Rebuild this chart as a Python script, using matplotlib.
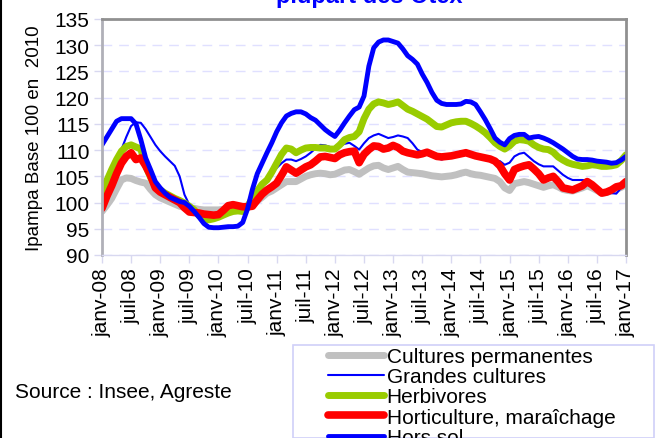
import matplotlib
matplotlib.use("Agg")
import matplotlib.pyplot as plt
from matplotlib.lines import Line2D
from matplotlib.patches import Rectangle

plt.rcParams['font.family'] = ['Liberation Sans', 'DejaVu Sans']

# monthly values, janv-08 .. janv-17
cultures_permanentes = [
    98.3, 99.5, 100.8, 102.6, 104.3, 104.7, 104.6, 104.2, 103.9, 103.7, 102.5, 101.5,
    100.9, 100.5, 100.1, 99.7, 99.3, 99.1, 98.9, 98.9, 98.7, 98.6, 98.6, 98.6,
    98.6, 98.7, 98.8, 98.9, 98.7, 98.6, 99.0, 99.6, 100.3, 101.0, 101.8, 102.2,
    102.8, 103.4, 104.0, 104.0, 104.0, 104.5, 105.0, 105.3, 105.5, 105.6, 105.5, 105.3,
    105.4, 105.8, 106.2, 106.3, 105.9, 105.4, 106.0, 106.6, 107.0, 107.1, 106.6, 106.3,
    106.6, 106.9, 106.3, 105.8, 105.7, 105.6, 105.5, 105.3, 105.1, 105.0, 104.9, 105.0,
    105.1, 105.3, 105.6, 105.8, 105.5, 105.3, 105.2, 105.0, 104.8, 104.6, 104.0, 102.8,
    102.3, 103.6, 103.8, 104.0, 103.8, 103.5, 103.2, 102.9, 103.2, 103.4, 103.0, 102.5,
    102.3, 102.2, 102.5, 102.8, 103.2, 102.8, 102.3, 101.8, 101.9, 102.2, 102.5, 102.9,
    103.4]
grandes_cultures = [
    100.5, 102.8, 105.0, 107.5, 110.1, 112.5, 114.6, 115.3, 115.2, 114.0, 112.5, 111.0,
    109.8, 108.8, 107.9, 107.0, 105.0, 101.5, 99.6, 98.8, 98.0, 97.6, 97.3, 97.4,
    97.6, 97.9, 98.2, 98.4, 98.4, 98.4, 99.6, 101.7, 102.5, 103.3, 104.5, 105.6,
    106.6, 107.5, 108.2, 108.2, 107.9, 108.3, 108.8, 109.5, 110.3, 111.0, 110.9, 110.6,
    110.4, 110.8, 111.2, 111.4, 110.8, 110.1, 111.3, 112.3, 112.8, 113.1, 112.7, 112.3,
    112.5, 112.8, 112.6, 112.3, 111.3, 110.1, 109.6, 109.1, 108.8, 108.5, 108.2, 108.5,
    109.0, 109.4, 109.8, 109.8, 109.3, 108.9, 108.6, 108.4, 108.2, 108.0, 107.9, 107.2,
    107.6, 108.8, 109.3, 109.5, 108.7, 107.9, 107.3, 106.9, 106.9, 106.9, 106.1, 105.3,
    104.7, 104.3, 104.3, 104.3, 104.2, 103.4, 102.2, 101.5, 101.7, 101.8, 101.7, 102.8,
    104.0]
herbivores = [
    102.1, 104.2, 106.3, 108.2, 109.8, 110.7, 111.0, 110.6, 110.2, 107.0, 104.8, 103.1,
    102.4, 101.8, 101.3, 100.8, 100.4, 99.9, 99.3, 98.6, 97.5, 97.0, 96.7, 96.9,
    97.2, 97.6, 98.0, 98.3, 98.4, 98.3, 99.3, 100.8, 102.2, 103.5, 104.3, 105.8,
    107.5, 109.2, 110.4, 110.2, 109.5, 110.0, 110.4, 110.5, 110.5, 110.4, 110.4, 110.2,
    110.2, 111.0, 112.0, 112.4, 112.6, 113.5, 116.0, 117.8, 118.8, 119.2, 119.0, 118.7,
    118.9, 119.2, 118.5, 117.8, 117.4, 116.9, 116.4, 115.9, 115.2, 114.5, 114.4, 114.8,
    115.2, 115.4, 115.5, 115.5, 115.1, 114.6, 114.0, 113.3, 112.4, 111.4, 110.7, 110.2,
    110.8, 111.7, 112.0, 111.9, 111.7, 111.0, 110.5, 110.2, 110.1, 109.6, 108.7, 108.1,
    107.6, 107.3, 107.1, 106.9, 107.0, 107.2, 107.1, 106.9, 106.9, 107.0, 107.2, 108.0,
    109.1]
horticulture = [
    98.9, 101.2, 103.2, 105.5, 107.5, 108.8, 109.5, 108.2, 108.5, 107.0, 105.2, 102.8,
    102.0, 101.5, 101.0, 100.5, 100.0, 99.0, 98.2, 98.1, 98.0, 97.8, 97.7, 97.6,
    97.7, 98.5, 99.4, 99.6, 99.4, 99.2, 99.2, 99.3, 100.5, 101.6, 102.4, 103.0,
    103.7, 105.2, 106.8, 106.2, 105.6, 106.2, 106.8, 107.2, 107.9, 108.7, 108.8, 108.6,
    108.4, 109.1, 109.5, 109.7, 109.8, 107.6, 109.2, 110.1, 110.8, 110.7, 110.2, 110.4,
    110.9, 110.5, 109.8, 109.5, 109.3, 109.1, 109.3, 109.6, 109.2, 108.8, 108.7, 108.8,
    108.9, 109.1, 109.3, 109.5, 109.2, 108.9, 108.7, 108.5, 108.3, 107.9, 107.0, 105.5,
    104.3, 106.3, 106.7, 107.0, 107.2, 106.4, 105.5, 104.3, 104.7, 105.0, 104.0, 102.8,
    102.6, 102.4, 102.8, 103.2, 104.0, 103.4, 102.6, 101.8, 102.0, 102.4, 103.0, 103.2,
    104.0]
hors_sol = [
    111.0, 112.5, 114.0, 115.5, 116.0, 116.0, 116.0, 115.0, 112.0, 108.5, 106.3, 104.0,
    102.8, 101.8, 101.0, 100.6, 100.2, 100.0, 99.3, 98.3, 97.2, 96.0, 95.3, 95.2,
    95.2, 95.3, 95.4, 95.4, 95.5, 96.2, 98.8, 102.5, 105.5, 107.5, 109.5, 111.4,
    113.5, 115.2, 116.5, 117.0, 117.3, 117.3, 116.9, 116.2, 115.7, 114.8, 113.9, 113.2,
    112.6, 113.8, 115.2, 116.5, 117.7, 118.2, 120.3, 126.0, 129.5, 130.6, 131.0, 131.0,
    130.7, 130.4, 129.3, 128.0, 127.3, 126.4, 124.5, 122.9, 121.0, 119.5, 118.9, 118.7,
    118.7, 118.7, 118.8, 119.3, 119.2, 118.7, 117.3, 115.8, 114.1, 112.3, 111.5, 111.0,
    112.2, 112.8, 113.0, 113.0, 112.3, 112.5, 112.6, 112.3, 111.9, 111.4, 110.8, 110.2,
    109.5, 108.8, 108.3, 108.2, 108.2, 108.1, 107.9, 107.8, 107.7, 107.5, 107.6, 108.1,
    108.8]

series_labels = ["Cultures permanentes", "Grandes cultures", "Herbivores",
                 "Horticulture, maraîchage", "Hors sol"]
tick_labels = ["janv-08", "juil-08", "janv-09", "juil-09", "janv-10", "juil-10",
               "janv-11", "juil-11", "janv-12", "juil-12", "janv-13", "juil-13",
               "janv-14", "juil-14", "janv-15", "juil-15", "janv-16", "juil-16",
               "janv-17"]
y_ticks = [90, 95, 100, 105, 110, 115, 120, 125, 130, 135]

W, H = 658, 439
fig = plt.figure(figsize=(W / 100, H / 100), dpi=100)
ax = fig.add_axes([102 / W, 1 - 256 / H, (626 - 102) / W, (256 - 20) / H])

months = list(range(len(hors_sol)))
styles = [
    (cultures_permanentes, '#C0C0C0', 5.0),
    (grandes_cultures, '#0000FF', 1.5),
    (herbivores, '#99CC00', 5.0),
    (horticulture, '#FF0000', 5.5),
    (hors_sol, '#0000FF', 3.5),
]
handles = []
for (vals, col, lw), lab in zip(styles, series_labels):
    ln, = ax.plot(months, vals, color=col, lw=lw, solid_joinstyle='round',
                  solid_capstyle='round', label=lab)
    handles.append(ln)

ax.set_xlim(0, 108)
ax.set_ylim(90, 135)
ax.set_yticks(y_ticks)
ax.set_yticklabels([str(v) for v in y_ticks], fontsize=15)
ax.set_xticks(list(range(0, 109, 6)))
ax.set_xticklabels(tick_labels, rotation=90, fontsize=15)
ax.tick_params(axis='both', color='#D8D8F0', length=6, width=1, pad=3)
ax.yaxis.grid(True, color='#E0E0FF', lw=1, linestyle=(0, (7, 5)))
ax.set_axisbelow(True)
for s in ['top', 'right']:
    ax.spines[s].set_color('#909090')
    ax.spines[s].set_linewidth(2)
ax.spines['left'].set_color('#B0B0B8')
ax.spines['left'].set_linewidth(2)
ax.spines['bottom'].set_color('#D8D8F0')
ax.spines['bottom'].set_linewidth(1)

ax.set_ylabel("Ipampa Base 100 en  2010", fontsize=13.5, labelpad=8)

# title, cut off by the top edge as in the reference
fig.text(369 / W, 1 - 3 / H, "plupart des Otex", color='#0000FF', fontsize=17,
         fontweight='bold', ha='center', va='baseline')

fig.text(15 / W, 1 - 393 / H, "Source : Insee, Agreste", fontsize=15,
         ha='left', va='center')

# legend frame and legend
fig.patches.append(Rectangle((293 / W, 0), (654 - 293) / W, (439 - 346) / H,
                             transform=fig.transFigure, fill=False,
                             edgecolor='#D0D0F8', lw=1.2))
leg = fig.legend(handles=handles, labels=series_labels, loc='upper left',
                 bbox_to_anchor=(328 / W, 1 - 348 / H), frameon=False,
                 fontsize=15, labelspacing=0.06, handlelength=2.7,
                 handletextpad=0.12, borderpad=0.0, borderaxespad=0)

# left outer border
fig.add_artist(Line2D([0.7 / W, 0.7 / W], [0, 1], transform=fig.transFigure,
                      color='black', lw=1.5))

fig.savefig("out.png", dpi=100)
